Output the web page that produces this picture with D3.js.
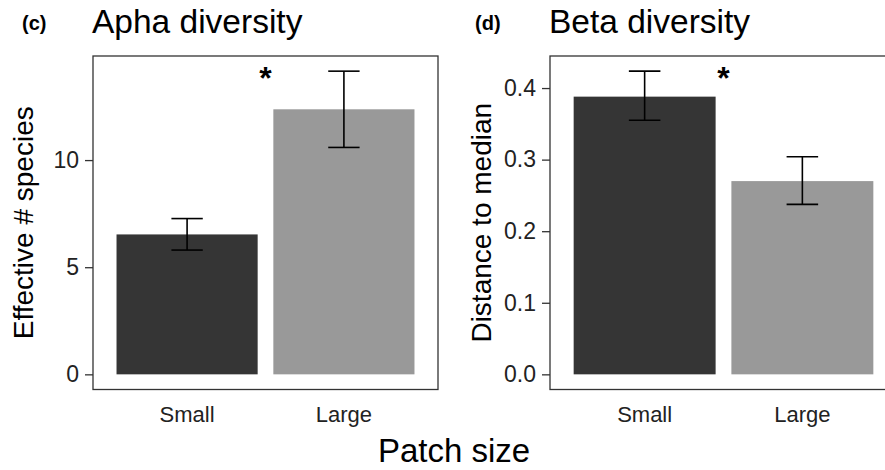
<!DOCTYPE html>
<html>
<head>
<meta charset="utf-8">
<script src="https://cdn.jsdelivr.net/npm/d3@7"></script>
<style>
  body { margin: 0; background: #fff; }
  svg { display: block; font-family: "Liberation Sans", Arial, Helvetica, sans-serif; }
</style>
</head>
<body>
<div id="chart"></div>
<script>
// canvas size
const width = 885
const height = 470

// data
const categories = ["Small", "Large"]
const barColors = ["#353535", "#999999"]

const alphaMean = [6.53, 12.37]
const alphaLow = [5.80, 10.59]
const alphaHigh = [7.27, 14.15]
const alphaTicks = [0, 5, 10]

const betaMean = [0.388, 0.270]
const betaLow = [0.355, 0.2375]
const betaHigh = [0.4236, 0.304]
const betaTicks = [0, 0.1, 0.2, 0.3, 0.4]

// where the significance stars sit (in data units)
const starY = [14.0, 0.42]

var svg = d3.select("#chart")
  .append("svg")
  .attr("width", width)
  .attr("height", height)

// one panel = one bar chart with error bars
function drawPanel(opt) {
  var x = d3.scaleBand()
    .domain(categories)
    .range([opt.left, opt.right])
    .paddingInner(0.1)
    .paddingOuter(0.15)

  // ggplot style 5% expansion
  var ymax = d3.max(opt.high)
  var y = d3.scaleLinear()
    .domain([-ymax * 0.05, ymax * 1.05])
    .range([389.5, 56])

  var g = svg.append("g")

  // bars
  g.selectAll("rect.bar")
    .data(categories)
    .enter().append("rect")
      .attr("class", "bar")
      .attr("x", function(d) { return x(d) })
      .attr("width", x.bandwidth())
      .attr("y", function(d, i) { return y(opt.mean[i]) })
      .attr("height", function(d, i) { return y(0) - y(opt.mean[i]) })
      .style("fill", function(d, i) { return barColors[i] })

  // error bars
  var cap = x.step() * 0.2
  var eb = g.selectAll("g.err")
    .data(categories)
    .enter().append("g")
      .attr("class", "err")
      .attr("transform", function(d) { return "translate(" + (x(d) + x.bandwidth() / 2) + ",0)" })
      .attr("stroke", "#000")
      .attr("stroke-width", 1.6)
  eb.append("line")
    .attr("y1", function(d, i) { return y(opt.low[i]) })
    .attr("y2", function(d, i) { return y(opt.high[i]) })
  eb.append("line")
    .attr("x1", -cap / 2).attr("x2", cap / 2)
    .attr("y1", function(d, i) { return y(opt.high[i]) })
    .attr("y2", function(d, i) { return y(opt.high[i]) })
  eb.append("line")
    .attr("x1", -cap / 2).attr("x2", cap / 2)
    .attr("y1", function(d, i) { return y(opt.low[i]) })
    .attr("y2", function(d, i) { return y(opt.low[i]) })

  // panel border
  g.append("rect")
    .attr("x", opt.left)
    .attr("y", 56)
    .attr("width", opt.right - opt.left)
    .attr("height", 389.5 - 56)
    .attr("fill", "none")
    .attr("stroke", "#333")
    .attr("stroke-width", 1.3)

  // y axis
  var yAxis = g.append("g")
    .attr("transform", "translate(" + opt.left + ",0)")
    .call(d3.axisLeft(y).tickValues(opt.ticks).tickFormat(opt.fmt).tickSize(8).tickPadding(6))
  yAxis.select(".domain").remove()
  yAxis.selectAll(".tick line").attr("stroke", "#333").attr("stroke-width", 1.3)
  yAxis.selectAll(".tick text")
    .attr("fill", "#222")
    .style("font-size", "23px")
    .style("font-family", "Liberation Sans, Arial, sans-serif")

  // x axis labels (no tick marks visible beyond frame)
  var xAxis = g.append("g")
    .attr("transform", "translate(0,389.5)")
    .call(d3.axisBottom(x).tickSize(0).tickPadding(17))
  xAxis.select(".domain").remove()
  xAxis.selectAll(".tick text")
    .attr("fill", "#222")
    .style("font-size", "22px")
    .style("font-family", "Liberation Sans, Arial, sans-serif")

  // y title
  g.append("text")
    .attr("transform", "translate(" + opt.titleX + "," + ((56 + 389.5) / 2) + ") rotate(-90)")
    .attr("text-anchor", "middle")
    .style("font-size", "28px")
    .text(opt.ylabel)

  // panel letter and title
  g.append("text")
    .attr("x", opt.letterX)
    .attr("y", 30)
    .style("font-size", "20px")
    .style("font-weight", "bold")
    .text(opt.letter)
  g.append("text")
    .attr("x", opt.left - 1)
    .attr("y", 33)
    .style("font-size", "33.5px")
    .text(opt.title)

  // significance star between the bars
  var mid = (x(categories[0]) + x(categories[1]) + x.bandwidth()) / 2
  g.append("text")
    .attr("x", mid)
    .attr("y", y(opt.star) + 15)
    .attr("text-anchor", "middle")
    .style("font-size", "32px")
    .style("font-weight", "bold")
    .text("*")
}

drawPanel({
  left: 93, right: 438,
  mean: alphaMean, low: alphaLow, high: alphaHigh,
  ticks: alphaTicks, fmt: d3.format("d"),
  ylabel: "Effective # species", titleX: 33,
  letter: "(c)", letterX: 22, title: "Apha diversity",
  star: starY[0]
})

drawPanel({
  left: 550, right: 897,
  mean: betaMean, low: betaLow, high: betaHigh,
  ticks: betaTicks, fmt: d3.format(".1f"),
  ylabel: "Distance to median", titleX: 491,
  letter: "(d)", letterX: 475, title: "Beta diversity",
  star: starY[1]
})

// shared x title
svg.append("text")
  .attr("x", 454)
  .attr("y", 462)
  .attr("text-anchor", "middle")
  .style("font-size", "33px")
  .text("Patch size")
</script>
</body>
</html>
